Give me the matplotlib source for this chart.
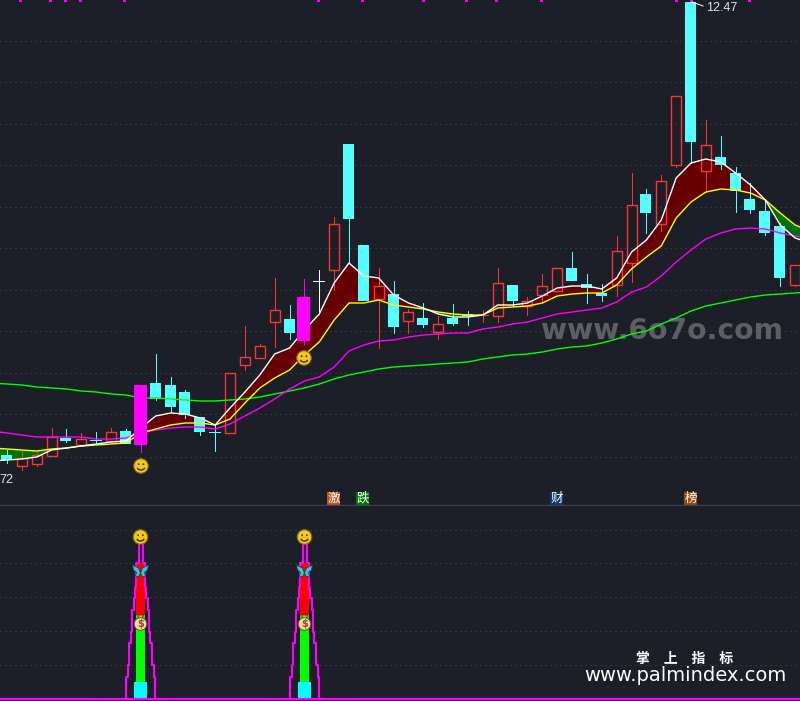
#!/usr/bin/env python3
"""Grafico a candele con pannello indicatore sotto. Valori letti dall'immagine (unita' schermo)."""

import numpy as np
import matplotlib
matplotlib.use("Agg")
import matplotlib.pyplot as plt
from matplotlib.patches import Circle, Arc, Polygon, Rectangle

BG = "#1c1f28"
GRID = "#4a4d55"
RED = "#ff3333"
CYAN = "#55ffff"
MAGENTA = "#ff00ff"

# candele: c=cyan r=rosso m=magenta w=bianco
kinds = [
    "c", "r", "r", "r", "c", "r", "c", "r", "c", "m",
    "c", "c", "c", "c", "c", "r", "r", "r", "r", "c",
    "m", "w", "r", "c", "c", "r", "c", "r", "c", "r",
    "c", "c", "r", "r", "c", "r", "r", "r", "c", "c",
    "c", "r", "r", "c", "r", "r", "c", "r", "c", "c",
    "c", "c", "c", "r",
]
body_top = [455, 458, 455, 437, 438, 439, 440, 432, 431, 385,
            383, 385, 392, 417, 432, 373, 357, 346, 310, 319,
            297, 281, 224, 144, 245, 286, 294, 312, 318, 324,
            318, 314, 315, 283, 285, 301, 286, 268, 268, 284,
            293, 251, 205, 194, 181, 96, 2, 145, 157, 173,
            199, 211, 226, 265]
body_bot = [460, 466, 464, 456, 441, 445, 440, 441, 444, 445,
            399, 407, 415, 432, 432, 433, 365, 358, 322, 333,
            341, 281, 270, 219, 301, 299, 327, 321, 325, 332,
            324, 316, 315, 316, 301, 306, 295, 291, 281, 288,
            296, 285, 263, 213, 224, 165, 142, 171, 165, 191,
            210, 233, 278, 285]
wick_top = [450, 451, 452, 428, 429, 433, 432, 428, 429, 385,
            354, 377, 390, 417, 424, 373, 326, 344, 278, 305,
            279, 270, 217, 144, 245, 268, 281, 309, 303, 316,
            304, 311, 310, 268, 285, 297, 274, 268, 252, 274,
            284, 236, 173, 189, 175, 96, 2, 120, 136, 167,
            183, 200, 223, 265]
wick_bot = [463, 470, 466, 456, 442, 445, 443, 441, 444, 452,
            400, 412, 418, 435, 451, 433, 370, 358, 347, 339,
            344, 314, 290, 263, 301, 348, 333, 333, 327, 339,
            325, 325, 322, 322, 306, 315, 303, 291, 281, 303,
            301, 296, 282, 233, 231, 167, 163, 192, 169, 212,
            213, 235, 286, 286]

# medie mobili: un punto prima e uno dopo le candele, oltre i bordi
ma_white = [461, 460, 459, 457, 450, 448, 446, 444, 442, 441, 428,
            416, 413, 414, 418, 425, 408, 392, 375, 354, 348,
            330, 314, 283, 263, 276, 278, 295, 303, 308, 314,
            317, 317, 315, 305, 305, 303, 296, 288, 286, 286,
            289, 278, 252, 240, 220, 178, 163, 159, 162, 173,
            185, 200, 225, 238, 243]
ma_yellow = [448, 449, 450, 451, 449, 448, 446, 445, 444, 443, 433,
             429, 425, 423, 423, 425, 419, 403, 388, 378, 370,
             355, 342, 320, 303, 303, 300, 305, 307, 309, 312,
             314, 315, 315, 308, 307, 306, 303, 296, 294, 293,
             293, 285, 269, 257, 246, 218, 202, 192, 189, 190,
             193, 200, 213, 225, 231]
ma_magenta = [431, 433, 435, 437, 437, 437, 437, 439, 439, 438, 433,
              430, 428, 427, 427, 429, 424, 416, 408, 399, 389,
              381, 377, 367, 351, 345, 341, 340, 337, 335, 334,
              333, 333, 329, 327, 324, 322, 318, 314, 312, 310,
              308, 302, 292, 287, 276, 262, 250, 239, 233, 229,
              228, 229, 233, 236, 238]
ma_green = [383, 384, 385, 387, 388, 389, 391, 392, 394, 395, 398,
            398, 399, 400, 401, 401, 400, 399, 397, 394, 391,
            388, 384, 379, 375, 372, 369, 367, 366, 365, 364,
            363, 362, 359, 357, 355, 354, 352, 349, 347, 346,
            343, 339, 334, 331, 324, 318, 311, 306, 303, 300,
            297, 295, 294, 293, 292]

grid_main = [41, 82, 124, 165, 207, 248, 290, 331, 373, 414, 457]
grid_low = [530, 563, 597, 631, 665]
top_marks = [20, 50, 65, 80, 124, 318, 362, 423, 466, 496, 541, 676, 691, 749]
smile_main = [(141, 466), (304, 358)]
tags = [("激", 333.5, "#c0521e"), ("跌", 362.5, "#007a00"),
        ("财", 556.5, "#0b3a70"), ("榜", 690.5, "#96490f")]

# pannello basso
signal_x = [140.5, 304.5]
step_levels = [699, 677, 665, 643, 632, 610, 598, 587, 563, 544]
step_half = [14.7, 13, 11.5, 9.8, 8.3, 7, 5.7, 4.7, 2]


def smiley(ax, x, y, r=7.3):
    ax.add_patch(Circle((x, y), r, fc="#f3c81c", ec="#7d6412", lw=0.8, zorder=8))
    for dx in (-2.4, 2.4):
        ax.add_patch(Circle((x + dx, y - 1.8), 0.9, fc="#3b2c05", ec="none", zorder=9))
    ax.add_patch(Arc((x, y + 0.5), 8, 7, theta1=20, theta2=160, color="#3b2c05",
                     lw=1, zorder=9))


def butterfly(ax, x, y):
    wing_l = [(x, y + 2), (x - 2, y - 3), (x - 8, y - 6), (x - 7, y - 1),
              (x - 4, y + 1.5), (x - 5, y + 5), (x - 2, y + 6)]
    wing_r = [(2 * x - px, py) for px, py in wing_l]
    for wing in (wing_l, wing_r):
        ax.add_patch(Polygon(wing, fc="#33c9d6", ec="#0c4a52", lw=0.6, zorder=8))


def money_bag(ax, x, y):
    ax.add_patch(Polygon([(x - 3, y - 9), (x + 3, y - 9), (x + 1.5, y - 5), (x - 1.5, y - 5)],
                         fc="#e3b040", ec="#4a3510", lw=0.6, zorder=8))
    ax.add_patch(Circle((x, y), 6.3, fc="#f4dc98", ec="#6e5220", lw=0.7, zorder=8))
    ax.text(x, y, "$", color="#8a4a3a", fontsize=7, fontweight="bold",
            ha="center", va="center", zorder=9)


def main():
    fig = plt.figure(figsize=(8.0, 7.01), dpi=100, facecolor=BG)
    ax = fig.add_axes([0, 195 / 701, 1, 506 / 701], facecolor=BG)
    low = fig.add_axes([0, 0, 1, 195 / 701], facecolor=BG)
    ax.set_xlim(0, 800)
    ax.set_ylim(506, 0)
    low.set_xlim(0, 800)
    low.set_ylim(701, 506)
    for a in (ax, low):
        a.axis("off")

    px = 0.72  # 1 pixel in punti
    ma_lw = 1.0
    xs = 7 + 14.87 * np.arange(len(kinds))
    ma_x = 7 + 14.87 * (np.arange(len(ma_white)) - 1)
    white = np.array(ma_white, dtype=float)
    yellow = np.array(ma_yellow, dtype=float)

    for y in grid_main:
        ax.plot([0, 800], [y, y], color=GRID, lw=px, ls=(0, (1, 4)), zorder=1)
    for y in grid_low:
        low.plot([0, 800], [y, y], color=GRID, lw=px, ls=(0, (1, 4)), zorder=1)

    ax.text(661.5, 331, "www.6o7o.com", color="#5d5f64", fontsize=20.3, fontweight="bold",
            ha="center", va="center", zorder=1.5)

    # banda tra le due medie veloci (y invertita: bianca sopra = rosso scuro)
    ax.fill_between(ma_x, white, yellow, where=white <= yellow, interpolate=True,
                    color="#660000", lw=0, zorder=2)
    ax.fill_between(ma_x, white, yellow, where=white >= yellow, interpolate=True,
                    color="#007000", lw=0, zorder=2)

    # candele
    colors = {"c": CYAN, "r": RED, "m": MAGENTA, "w": "#ffffff"}
    for i, k in enumerate(kinds):
        col = colors[k]
        x = round(xs[i]) - 0.5
        top, bot = body_top[i], body_bot[i]
        z = 5 if k == "m" else 3
        ax.plot([x, x], [wick_top[i], top], color=col, lw=px, aa=False, zorder=z)
        ax.plot([x, x], [bot, wick_bot[i]], color=col, lw=px, aa=False, zorder=z)
        if top == bot:
            ax.plot([x - 5.5, x + 5.5], [top, top], color=col, lw=px, aa=False, zorder=z)
        elif k == "r":
            ax.add_patch(Rectangle((x - 5, top), 10, bot - top, fc="none", ec=col, lw=1.0,
                                   zorder=z))
        else:
            w = 13 if k == "m" else 11
            ax.bar(x, bot - top, width=w, bottom=top, color=col, lw=0, aa=False, zorder=z)

    ax.plot(ma_x, ma_green, color="#00ff00", lw=ma_lw, zorder=4)
    ax.plot(ma_x, ma_magenta, color=MAGENTA, lw=ma_lw, zorder=4)
    ax.plot(ma_x, ma_yellow, color="#ffff00", lw=ma_lw, zorder=4)
    ax.plot(ma_x, ma_white, color="#ffffff", lw=ma_lw, zorder=4.5)

    for x, y in smile_main:
        smiley(ax, x, y)
    for x in top_marks:
        ax.add_patch(Rectangle((x - 1.5, 0), 3, 2, fc=MAGENTA, ec="none", zorder=6))

    ax.plot([692, 703], [2, 6], color="#ffffff", lw=px, zorder=7)
    ax.text(706, 8, "12.47", color="#d6e6f2", fontsize=9, family="Liberation Sans",
            ha="left", va="center", zorder=7)
    ax.text(-1, 480, "72", color="#d6e6f2", fontsize=9, family="Liberation Sans",
            ha="left", va="center", zorder=7)

    for label, x, col in tags:
        ax.add_patch(Rectangle((x - 6.5, 492), 13, 14, fc=col, ec="none", zorder=6))
        ax.text(x, 498.5, label, color="#ffffff", fontsize=9, family="Noto Sans CJK SC",
                ha="center", va="center", zorder=7)

    ax.plot([0, 800], [505.5, 505.5], color="#3c414e", lw=1.0, zorder=6)

    # pannello basso
    low.plot([0, 800], [699, 699], color=MAGENTA, lw=1.5, zorder=4, solid_capstyle="butt")
    for cx in signal_x:
        low.bar(cx, 17, width=13, bottom=682, color="#00ffff", lw=0, aa=False, zorder=3)
        low.bar(cx, 67, width=9, bottom=615, color="#00ff00", lw=0, aa=False, zorder=2.5)
        low.bar(cx, 52, width=9, bottom=563, color="#ff0000", lw=0, aa=False, zorder=2.5)
        for sign in (-1, 1):
            path_x, path_y = [], []
            for j, half in enumerate(step_half):
                path_x += [cx + sign * half, cx + sign * half]
                path_y += [step_levels[j], step_levels[j + 1]]
            low.plot(path_x, path_y, color=MAGENTA, lw=1.5, zorder=4)
        smiley(low, cx, 537)
        butterfly(low, cx, 571)
        money_bag(low, cx, 624)

    low.text(685, 659, "掌\u3000上\u3000指\u3000标", color="#ffffff", fontsize=10, fontweight="bold",
             family="Noto Sans CJK SC", ha="center", va="center", zorder=7)
    low.text(685, 675.5, "www.palmindex.com", color="#ffffff", fontsize=14,
             ha="center", va="center", zorder=7)

    fig.savefig("out.png", dpi=100, facecolor=BG)
    plt.close(fig)


if __name__ == "__main__":
    main()
